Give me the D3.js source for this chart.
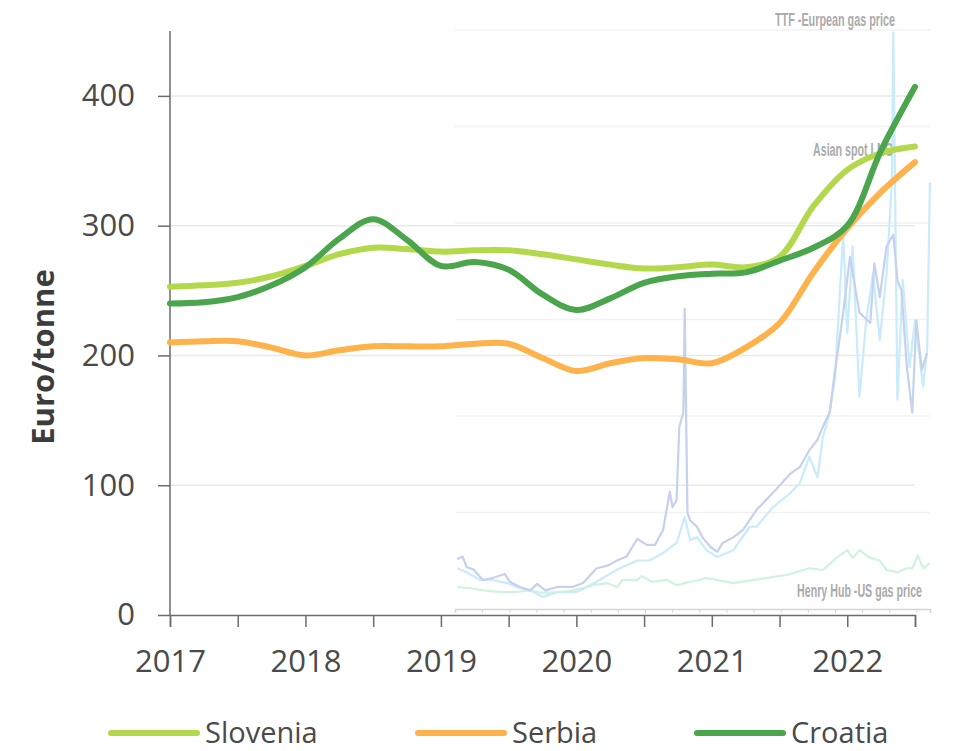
<!DOCTYPE html>
<html>
<head>
<meta charset="utf-8">
<script src="https://cdn.jsdelivr.net/npm/d3@7"></script>
<style>
  body { margin: 0; background: #fff; }
  svg { display: block; font-family: "Open Sans", "Noto Sans", sans-serif; }
</style>
</head>
<body>
<svg id="chart"></svg>
<script>
const width = 959;
const height = 751;

// quarterly points
const quarters = [2017, 2017.25, 2017.5, 2017.75, 2018, 2018.25, 2018.5, 2018.75,
  2019, 2019.25, 2019.5, 2019.75, 2020, 2020.25, 2020.5, 2020.75,
  2021, 2021.25, 2021.5, 2021.75, 2022, 2022.25, 2022.5];
const slovenia = [253, 254, 256, 261, 269, 278, 283, 282, 280, 281, 281, 278,
  274, 270, 267, 268, 270, 268, 276, 315, 343, 356, 361];
const serbia = [210, 211, 211, 206, 200, 204, 207, 207, 207, 209, 209, 198,
  188, 194, 198, 197, 194, 206, 225, 264, 298, 326, 349];
const croatia = [240, 241, 245, 254, 268, 290, 305, 289, 269, 272, 266, 247,
  235, 244, 256, 261, 263, 264, 273, 283, 300, 358, 407];

const seriesNames = ["Slovenia", "Serbia", "Croatia"];
const seriesColors = ["#b4d84b", "#fdb24c", "#4ba54c"];

const yTicks = [0, 100, 200, 300, 400];
const xTicks = [2017, 2017.5, 2018, 2018.5, 2019, 2019.5, 2020, 2020.5, 2021, 2021.5, 2022, 2022.5];
const yearLabels = [2017, 2018, 2019, 2020, 2021, 2022];

// faded gas price backdrop: [year, value on the euro/tonne scale]
const asianLng = [[2019.12, 43], [2019.16, 45], [2019.19, 37], [2019.24, 35], [2019.31, 27], [2019.38, 28.5],
  [2019.47, 31.6], [2019.51, 25.6], [2019.58, 21.6], [2019.66, 19], [2019.71, 24], [2019.77, 19],
  [2019.86, 21.6], [2019.97, 21.6], [2020.05, 24.6], [2020.15, 36], [2020.23, 38], [2020.30, 42],
  [2020.37, 45], [2020.45, 58.6], [2020.52, 54], [2020.58, 54], [2020.64, 65.5], [2020.69, 95],
  [2020.71, 83], [2020.74, 88.6], [2020.76, 145], [2020.79, 156], [2020.80, 236], [2020.82, 78.6],
  [2020.84, 73], [2020.89, 68], [2020.93, 60], [2020.99, 52.4], [2021.04, 48.6], [2021.08, 55.5],
  [2021.16, 60], [2021.23, 65.5], [2021.33, 81], [2021.45, 94], [2021.58, 109], [2021.65, 114],
  [2021.72, 127], [2021.78, 135], [2021.82, 145], [2021.87, 156], [2021.91, 189], [2021.93, 203],
  [2021.97, 233], [2022.02, 276], [2022.09, 233], [2022.17, 225], [2022.20, 271], [2022.24, 245],
  [2022.29, 284], [2022.34, 293], [2022.37, 258], [2022.40, 250], [2022.44, 191], [2022.48, 156],
  [2022.51, 227], [2022.55, 189], [2022.59, 202]];
const ttf = [[2019.12, 36], [2019.19, 33], [2019.29, 27], [2019.38, 27], [2019.49, 24.6], [2019.56, 21.6],
  [2019.66, 19], [2019.75, 14], [2019.86, 17.7], [2020.00, 17.7], [2020.08, 21.6], [2020.17, 27],
  [2020.30, 35], [2020.45, 42], [2020.54, 42], [2020.64, 47.8], [2020.74, 55.5], [2020.80, 75.5],
  [2020.84, 57.8], [2020.89, 60], [2020.96, 50], [2021.04, 44.7], [2021.16, 50], [2021.21, 57.8],
  [2021.28, 68], [2021.33, 68], [2021.45, 83], [2021.58, 94], [2021.65, 101.7], [2021.72, 122],
  [2021.78, 106], [2021.82, 137], [2021.87, 156], [2021.91, 183], [2021.92, 202], [2021.97, 294],
  [2022.00, 217], [2022.04, 284], [2022.09, 168], [2022.14, 227], [2022.19, 263], [2022.24, 212],
  [2022.29, 263], [2022.33, 335], [2022.34, 449], [2022.37, 166], [2022.41, 258], [2022.46, 191],
  [2022.50, 227], [2022.56, 176], [2022.59, 206], [2022.61, 333]];
const henryHub = [[2019.12, 21.6], [2019.21, 20.8], [2019.31, 19], [2019.44, 17.7], [2019.56, 17.7],
  [2019.66, 19], [2019.75, 17], [2019.86, 17.7], [2019.95, 18.5], [2020.05, 20.8], [2020.12, 23],
  [2020.23, 24.6], [2020.30, 21.6], [2020.34, 27], [2020.45, 27], [2020.48, 30], [2020.56, 25.6],
  [2020.67, 27], [2020.74, 23], [2020.84, 25.6], [2020.91, 27], [2020.96, 28.5], [2021.16, 24.6],
  [2021.35, 27.7], [2021.55, 30.8], [2021.72, 36], [2021.82, 34.7], [2021.92, 44], [2022.00, 50],
  [2022.04, 44], [2022.09, 50], [2022.17, 44], [2022.24, 42], [2022.29, 34.7], [2022.37, 33],
  [2022.44, 36], [2022.48, 36], [2022.52, 46], [2022.56, 36], [2022.61, 40]];
const gasLabels = ["TTF -Eurpean gas price", "Asian spot LNG", "Henry Hub -US gas price"];

const svg = d3.select("#chart")
    .attr("width", width)
    .attr("height", height);

const x = d3.scaleLinear().domain([2017, 2022.5]).range([170, 915]);
const y = d3.scaleLinear().domain([0, 450]).range([615, 31]);

// backdrop panel (pasted gas price chart)
const gasX = d3.scaleLinear().domain([0, 17.5]).range([455, 930]);
const gasGrid = d3.scaleLinear().domain([0, 6]).range([609, 30]);

svg.append("g")
    .selectAll("line")
    .data(d3.range(1, 7))
    .join("line")
    .attr("x1", 455).attr("x2", 930)
    .attr("y1", d => gasGrid(d)).attr("y2", d => gasGrid(d))
    .attr("stroke", "#f2f2f2")
    .attr("stroke-width", 1.5);

// main gridlines
svg.append("g")
    .selectAll("line")
    .data(yTicks.slice(1))
    .join("line")
    .attr("x1", x(2017)).attr("x2", x(2022.5))
    .attr("y1", d => y(d)).attr("y2", d => y(d))
    .attr("stroke", "#e9e9e9")
    .attr("stroke-width", 1.5);

const gasAxis = svg.append("g")
    .attr("transform", `translate(0,${gasGrid(0)})`)
    .call(d3.axisBottom(gasX).tickValues(d3.range(18)).tickSize(4).tickFormat(""));
gasAxis.select(".domain").attr("stroke", "#d4d4d4").attr("stroke-width", 1.5);
gasAxis.selectAll(".tick line").attr("stroke", "#d4d4d4");

const gasLine = d3.line()
    .x(d => x(d[0]))
    .y(d => y(d[1]));

[[henryHub, "#cff3dd"], [ttf, "#c9ebfb"], [asianLng, "#c6d1ee"]].forEach(([data, color]) => {
  svg.append("path")
      .datum(data)
      .attr("d", gasLine)
      .attr("fill", "none")
      .attr("stroke", color)
      .attr("stroke-width", 2.2)
      .attr("stroke-linejoin", "round");
});

// condensed grey captions of the backdrop
const gasText = svg.append("g")
    .attr("font-family", "'Liberation Sans', Arial, sans-serif")
    .attr("font-weight", "bold")
    .attr("font-size", 18)
    .attr("fill", "#ababab");
const captionPos = [[775, 26, 120], [813, 156, 80], [797, 597, 125]];
gasText.selectAll("text")
    .data(gasLabels)
    .join("text")
    .attr("x", (d, i) => captionPos[i][0])
    .attr("y", (d, i) => captionPos[i][1])
    .attr("textLength", (d, i) => captionPos[i][2])
    .attr("lengthAdjust", "spacingAndGlyphs")
    .text(d => d);

// axes
const yAxis = svg.append("g")
    .attr("transform", `translate(${x(2017)},0)`)
    .call(d3.axisLeft(y).tickValues(yTicks).tickSize(12).tickPadding(23));
yAxis.select(".domain").attr("d", `M0,${y(0)}V${y(450)}`);

const xAxis = svg.append("g")
    .attr("transform", `translate(0,${y(0)})`)
    .call(d3.axisBottom(x).tickValues(xTicks).tickSize(12).tickPadding(23)
      .tickFormat(d => yearLabels.includes(d) ? d : ""));

[yAxis, xAxis].forEach(g => {
  g.select(".domain").attr("stroke", "#6b6b6b").attr("stroke-width", 1.5);
  g.selectAll(".tick line").attr("stroke", "#6b6b6b").attr("stroke-width", 1.5);
  g.selectAll(".tick text")
      .attr("font-family", "'Open Sans', sans-serif")
      .attr("font-size", 31)
      .attr("fill", "#4a4a4a");
});

svg.append("text")
    .attr("transform", "translate(54,357) rotate(-90)")
    .attr("text-anchor", "middle")
    .attr("font-weight", "bold")
    .attr("font-size", 31)
    .attr("fill", "#3c3c3c")
    .text("Euro/tonne");

// country lines
const line = d3.line()
    .x((d, i) => x(quarters[i]))
    .y(d => y(d))
    .curve(d3.curveCatmullRom.alpha(0.5));

[slovenia, serbia, croatia].forEach((values, i) => {
  svg.append("path")
      .datum(values)
      .attr("d", line)
      .attr("fill", "none")
      .attr("stroke", seriesColors[i])
      .attr("stroke-width", 6)
      .attr("stroke-linecap", "round");
});

// legend
const legendX = [111, 418, 697];
const legend = svg.append("g")
    .selectAll("g")
    .data(seriesNames)
    .join("g")
    .attr("transform", (d, i) => `translate(${legendX[i]},733)`);
legend.append("line")
    .attr("x1", 0).attr("x2", 86)
    .attr("stroke", (d, i) => seriesColors[i])
    .attr("stroke-width", 6)
    .attr("stroke-linecap", "round");
legend.append("text")
    .attr("x", 94)
    .attr("y", 10)
    .attr("font-size", 29)
    .attr("fill", "#4a4a4a")
    .text(d => d);
</script>
</body>
</html>
